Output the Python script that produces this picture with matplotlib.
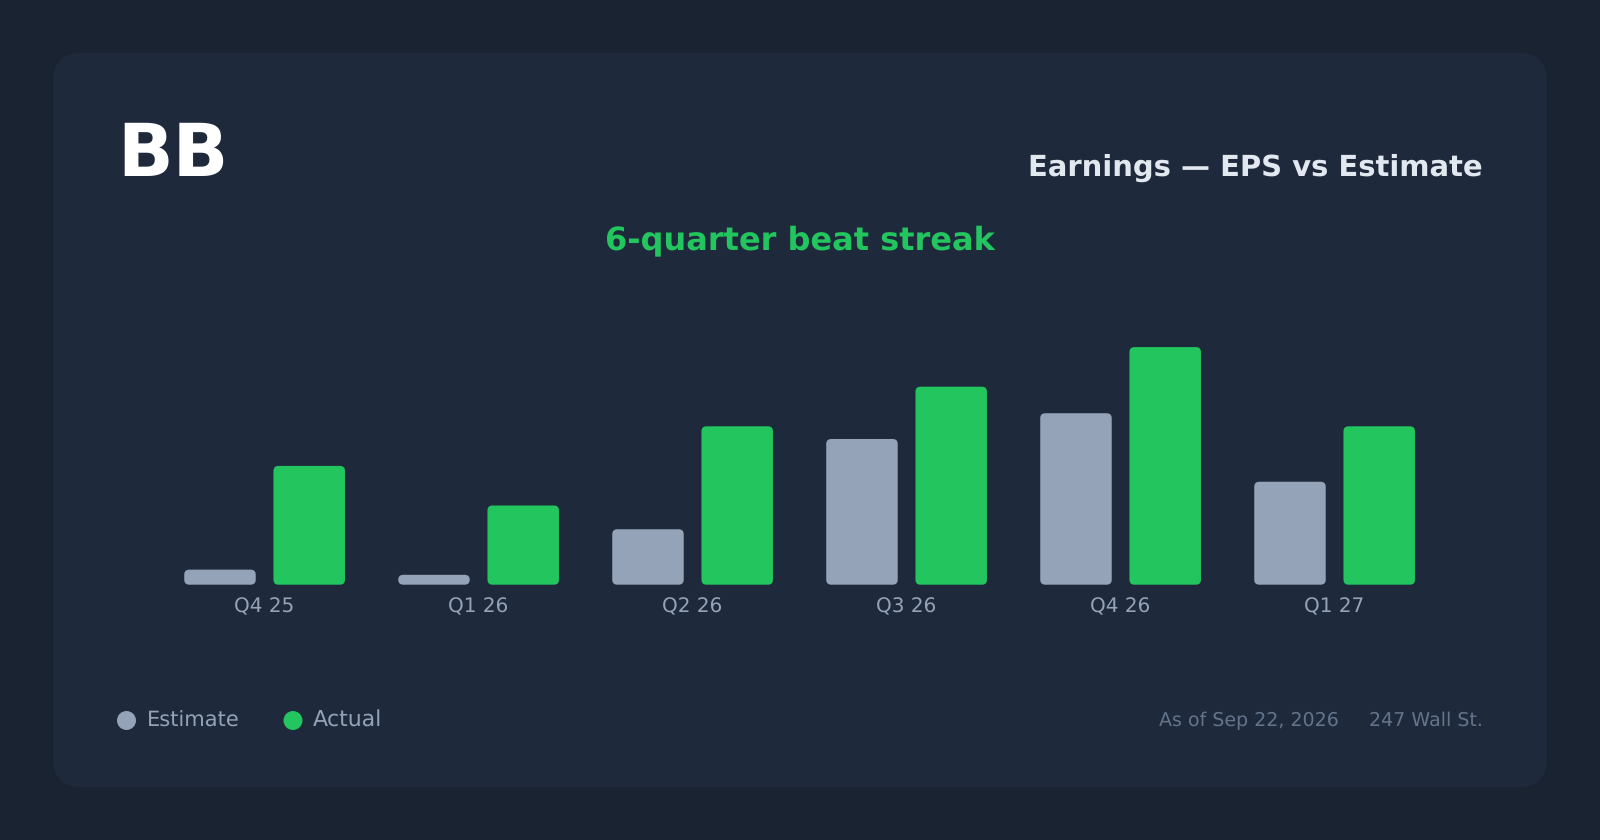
import matplotlib
matplotlib.use("Agg")
import numpy as np
import matplotlib.pyplot as plt
from matplotlib.patches import FancyBboxPatch, Circle

quarters = ["Q4 25", "Q1 26", "Q2 26", "Q3 26", "Q4 26", "Q1 27"]
estimate = [0.0038, 0.0025, 0.014, 0.0368, 0.0433, 0.026]
actual = [0.03, 0.02, 0.04, 0.05, 0.06, 0.04]

BG = "#1a2331"
CARD = "#1e293b"
GREEN = "#22c55e"
SLATE = "#94a3b8"
MUTED = "#64748b"
W, H = 1600, 840

plt.rcParams["text.hinting"] = "none"
plt.rcParams["text.hinting_factor"] = 1


def px(size):
    # font size in image pixels -> points at dpi 100
    return size * 0.72


def rounded_bars(ax, xs, values, width, color, radius_x, aspect):
    for x, v in zip(xs, values):
        ax.add_patch(FancyBboxPatch((x - width / 2, 0), width, v,
                                    boxstyle=f"round,pad=0,rounding_size={radius_x}",
                                    mutation_aspect=aspect,
                                    fc=color, ec="none"))


fig = plt.figure(figsize=(W / 100, H / 100), dpi=100, facecolor=BG)

# overlay in pixel coordinates for the card and the text
bg = fig.add_axes([0, 0, 1, 1])
bg.set_xlim(0, W)
bg.set_ylim(H, 0)
bg.axis("off")
bg.add_patch(FancyBboxPatch((53, 53), 1494, 734, boxstyle="round,pad=0,rounding_size=28",
                            fc=CARD, ec="none"))

bg.text(117, 176, "BB", color="white", fontsize=px(73.5), fontweight="bold", va="baseline")
bg.text(1483, 176, "Earnings \u2014 EPS vs Estimate", color="#e2e8f0", fontsize=px(29.3),
        fontweight="bold", ha="right", va="baseline")
bg.text(800, 249, "6-quarter beat streak", color=GREEN, fontsize=px(32),
        fontweight="bold", ha="center", va="baseline")

bg.add_patch(Circle((126.5, 720.5), 9.5, fc=SLATE, ec="none"))
bg.text(147, 727, "Estimate", color=SLATE, fontsize=px(21.5), va="baseline")
bg.add_patch(Circle((293, 720.5), 9.5, fc=GREEN, ec="none"))
bg.text(313, 727, "Actual", color=SLATE, fontsize=px(21.8), va="baseline")
bg.text(1339, 726, "As of Sep 22, 2026", color=MUTED, fontsize=px(18.6), ha="right", va="baseline")
bg.text(1483, 726, "247 Wall St.", color=MUTED, fontsize=px(18.6), ha="right", va="baseline")

# bar axes: 214 px per quarter, baseline at y=584.7
left, right = 157.6, 1441.6
bottom, top = 584.7, 307.5
ax = fig.add_axes([left / W, 1 - bottom / H, (right - left) / W, (bottom - top) / H])
ax.patch.set_alpha(0)
ax.set_xlim(-0.5, 5.5)
ax.set_ylim(0, 0.07)
for s in ax.spines.values():
    s.set_visible(False)
ax.set_yticks([])

xs = np.arange(len(quarters))
x_per_px = 1 / 214
y_per_px = 0.07 / (bottom - top)
aspect = y_per_px / x_per_px
radius = 5 * x_per_px
rounded_bars(ax, xs - 0.2085, estimate, 71.5 * x_per_px, SLATE, radius, aspect)
rounded_bars(ax, xs + 0.2085, actual, 71.5 * x_per_px, GREEN, radius, aspect)

ax.set_xticks(xs)
ax.set_xticklabels(quarters, color=SLATE, fontsize=px(20.2))
ax.tick_params(axis="x", length=0, pad=9.2)

fig.savefig("out.png", dpi=100, facecolor=BG)
